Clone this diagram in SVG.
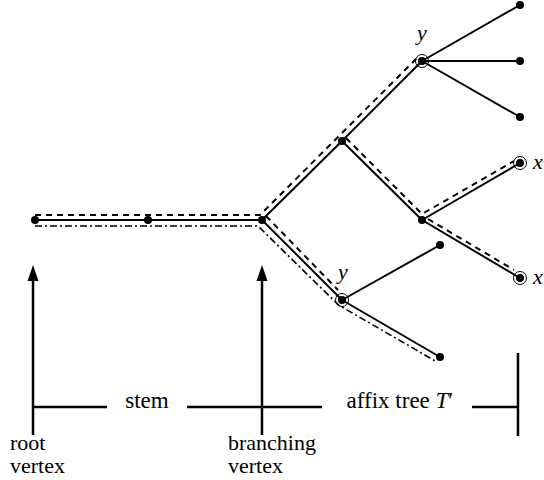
<svg xmlns="http://www.w3.org/2000/svg" width="544" height="480" viewBox="0 0 544 480">
<defs>
<style>
.edge{stroke:#000;stroke-width:2;fill:none;stroke-linecap:round}
.dash{stroke:#000;stroke-width:2;fill:none;stroke-dasharray:6 5}
.dashdot{stroke:#000;stroke-width:1.6;fill:none;stroke-dasharray:7 3 2 3;stroke-linejoin:round}
.ann{stroke:#000;stroke-width:2.5;fill:none}
.dot{fill:#000}
.mark{fill:none;stroke:#000;stroke-width:1}
.head{fill:#000}
</style>
</defs>
<g id="connectors">
<line class="edge" x1="35" y1="220" x2="148" y2="220"/>
<line class="edge" x1="148" y1="220" x2="262" y2="220"/>
<line class="edge" x1="262" y1="220" x2="342" y2="141"/>
<line class="edge" x1="342" y1="141" x2="422" y2="61"/>
<line class="edge" x1="422" y1="61" x2="520" y2="5"/>
<line class="edge" x1="422" y1="61" x2="520" y2="61"/>
<line class="edge" x1="422" y1="61" x2="520" y2="117"/>
<line class="edge" x1="342" y1="141" x2="422" y2="220"/>
<line class="edge" x1="422" y1="220" x2="520" y2="163"/>
<line class="edge" x1="422" y1="220" x2="520" y2="278"/>
<line class="edge" x1="262" y1="220" x2="342" y2="300"/>
<line class="edge" x1="342" y1="300" x2="440" y2="245"/>
<line class="edge" x1="342" y1="300" x2="440" y2="357"/>
</g>
<g id="paths">
<polyline class="dash" points="35,215 260,215 417,58"/>
<polyline class="dash" points="266,216 338,290"/>
<polyline class="dash" points="346,138 422,214 514,161"/>
<polyline class="dash" points="428,219 514,270"/>
<polyline class="dashdot" points="35,226 258,226 338.5,305 437,362"/>
</g>
<g id="n-root"><circle class="dot" cx="35" cy="220" r="4"/></g>
<g id="n-mid"><circle class="dot" cx="148" cy="220" r="4"/></g>
<g id="n-branch"><circle class="dot" cx="262" cy="220" r="4"/></g>
<g id="n-a"><circle class="dot" cx="342" cy="141" r="4"/></g>
<g id="n-ytop"><circle class="dot" cx="422" cy="61" r="4"/><circle class="mark" cx="422" cy="61" r="6.5"/><text x="422" y="40" text-anchor="middle" font-family="'Liberation Serif','Times New Roman','DejaVu Serif',serif" font-size="22" font-style="italic">y</text></g>
<g id="n-l1"><circle class="dot" cx="520" cy="5" r="4"/></g>
<g id="n-l2"><circle class="dot" cx="520" cy="61" r="4"/></g>
<g id="n-l3"><circle class="dot" cx="520" cy="117" r="4"/></g>
<g id="n-b"><circle class="dot" cx="422" cy="220" r="4"/></g>
<g id="n-x1"><circle class="dot" cx="520" cy="163" r="4"/><circle class="mark" cx="520" cy="163" r="6.5"/><text x="533" y="169" font-family="'Liberation Serif','Times New Roman','DejaVu Serif',serif" font-size="22" font-style="italic">x</text></g>
<g id="n-x2"><circle class="dot" cx="520" cy="278" r="4"/><circle class="mark" cx="520" cy="278" r="6.5"/><text x="533" y="284" font-family="'Liberation Serif','Times New Roman','DejaVu Serif',serif" font-size="22" font-style="italic">x</text></g>
<g id="n-ybot"><circle class="dot" cx="342" cy="300" r="4"/><circle class="mark" cx="342" cy="300" r="6.5"/><text x="343" y="279" text-anchor="middle" font-family="'Liberation Serif','Times New Roman','DejaVu Serif',serif" font-size="22" font-style="italic">y</text></g>
<g id="n-l4"><circle class="dot" cx="440" cy="245" r="4"/></g>
<g id="n-l5"><circle class="dot" cx="440" cy="357" r="4"/></g>
<g id="annotations" font-family="'Liberation Serif','Times New Roman','DejaVu Serif',serif" font-size="23">
<line class="ann" x1="33" y1="435" x2="33" y2="278"/>
<polygon class="head" points="33,265 38.5,281 27.5,281"/>
<line class="ann" x1="262" y1="435" x2="262" y2="278"/>
<polygon class="head" points="262,265 267.5,281 256.5,281"/>
<line class="ann" x1="33" y1="407" x2="107" y2="407"/>
<line class="ann" x1="187" y1="407" x2="322" y2="407"/>
<line class="ann" x1="472" y1="407" x2="518" y2="407"/>
<line class="ann" x1="518" y1="353" x2="518" y2="436"/>
<text x="147" y="408" text-anchor="middle">stem</text>
<text x="400" y="408" text-anchor="middle">affix tree <tspan font-style="italic">T</tspan>′</text>
<text font-size="22"><tspan x="10" y="450">root</tspan><tspan x="10" y="473">vertex</tspan></text>
<text font-size="22"><tspan x="228" y="450">branching</tspan><tspan x="228" y="473">vertex</tspan></text>
</g>
</svg>
